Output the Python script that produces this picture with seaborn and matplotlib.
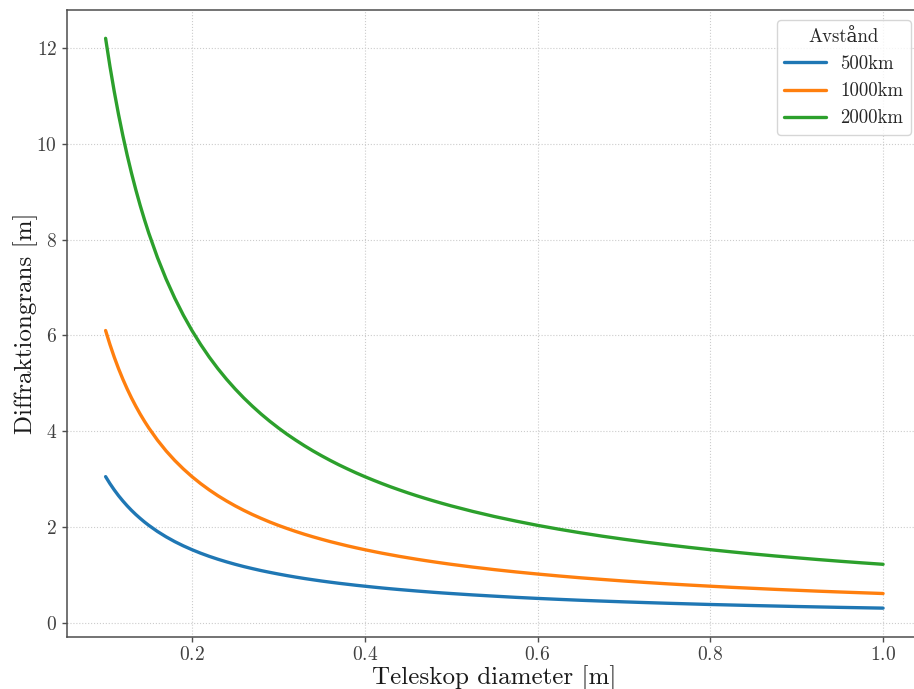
import matplotlib
matplotlib.use("Agg")
import matplotlib.pyplot as plt
import seaborn as sns
import pandas as pd

diameter = [0.10, 0.105, 0.11, 0.115, 0.12, 0.125, 0.13, 0.135, 0.14, 0.145, 0.15,
            0.16, 0.17, 0.18, 0.19, 0.20, 0.21, 0.22, 0.23, 0.24, 0.25, 0.26, 0.27,
            0.28, 0.29, 0.30, 0.31, 0.32, 0.33, 0.34, 0.35, 0.36, 0.37, 0.38, 0.39,
            0.40, 0.41, 0.42, 0.43, 0.44, 0.45, 0.46, 0.47, 0.48, 0.49, 0.50,
            0.525, 0.55, 0.575, 0.60, 0.625, 0.65, 0.675, 0.70, 0.725, 0.75, 0.775,
            0.80, 0.825, 0.85, 0.875, 0.90, 0.925, 0.95, 0.975, 1.00]
limit_500 = [3.050, 2.905, 2.773, 2.652, 2.542, 2.440, 2.346, 2.259, 2.179, 2.103, 2.033,
             1.906, 1.794, 1.694, 1.605, 1.525, 1.452, 1.386, 1.326, 1.271, 1.220, 1.173, 1.130,
             1.089, 1.052, 1.017, 0.984, 0.953, 0.924, 0.897, 0.871, 0.847, 0.824, 0.803, 0.782,
             0.763, 0.744, 0.726, 0.709, 0.693, 0.678, 0.663, 0.649, 0.635, 0.622, 0.610,
             0.581, 0.555, 0.530, 0.508, 0.488, 0.469, 0.452, 0.436, 0.421, 0.407, 0.394,
             0.381, 0.370, 0.359, 0.349, 0.339, 0.330, 0.321, 0.313, 0.305]
limit_1000 = [6.100, 5.810, 5.545, 5.304, 5.083, 4.880, 4.692, 4.519, 4.357, 4.207, 4.067,
              3.813, 3.588, 3.389, 3.211, 3.050, 2.905, 2.773, 2.652, 2.542, 2.440, 2.346, 2.259,
              2.179, 2.103, 2.033, 1.968, 1.906, 1.848, 1.794, 1.743, 1.694, 1.649, 1.605, 1.564,
              1.525, 1.488, 1.452, 1.419, 1.386, 1.356, 1.326, 1.298, 1.271, 1.245, 1.220,
              1.162, 1.109, 1.061, 1.017, 0.976, 0.938, 0.904, 0.871, 0.841, 0.813, 0.787,
              0.763, 0.739, 0.718, 0.697, 0.678, 0.659, 0.642, 0.626, 0.610]
limit_2000 = [12.200, 11.619, 11.091, 10.609, 10.167, 9.760, 9.385, 9.037, 8.714, 8.414, 8.133,
              7.625, 7.176, 6.778, 6.421, 6.100, 5.810, 5.545, 5.304, 5.083, 4.880, 4.692, 4.519,
              4.357, 4.207, 4.067, 3.935, 3.813, 3.697, 3.588, 3.486, 3.389, 3.297, 3.211, 3.128,
              3.050, 2.976, 2.905, 2.837, 2.773, 2.711, 2.652, 2.596, 2.542, 2.490, 2.440,
              2.324, 2.218, 2.122, 2.033, 1.952, 1.877, 1.807, 1.743, 1.683, 1.627, 1.574,
              1.525, 1.479, 1.435, 1.394, 1.356, 1.319, 1.284, 1.251, 1.220]
series_labels = ["500km", "1000km", "2000km"]
series_colors = ["#1f77b4", "#ff7f0e", "#2ca02c"]
x_ticks = [0.2, 0.4, 0.6, 0.8, 1.0]
y_ticks = [0, 2, 4, 6, 8, 10, 12]

rows = []
for lab, vals in zip(series_labels, [limit_500, limit_1000, limit_2000]):
    for d, v in zip(diameter, vals):
        rows.append({"Teleskop diameter [m]": d, "Diffraktiongrans [m]": v, "Avstånd": lab})
df = pd.DataFrame(rows)

sns.set_theme(style="whitegrid", rc={
    "grid.linestyle": ":",
    "grid.color": "0.8",
    "grid.linewidth": 0.8,
    "axes.edgecolor": "0.3",
    "axes.linewidth": 1.1,
    "xtick.major.size": 3.5,
    "ytick.major.size": 3.5,
    "xtick.major.width": 1.0,
    "ytick.major.width": 1.0,
    "xtick.major.pad": 3,
    "ytick.major.pad": 3.5,
    "xtick.color": "0.3",
    "ytick.color": "0.3",
    "xtick.bottom": True,
    "ytick.left": True,
})
plt.rcParams["font.family"] = ["cmr10", "DejaVu Serif"]
plt.rcParams["mathtext.fontset"] = "cm"
plt.rcParams["axes.formatter.use_mathtext"] = True

fig = plt.figure(figsize=(9.14, 6.89), dpi=100)
ax = fig.add_axes([0.073, 0.076, 0.9357, 0.9094])

sns.lineplot(data=df, x="Teleskop diameter [m]", y="Diffraktiongrans [m]",
             hue="Avstånd", palette=series_colors, linewidth=2.4, ax=ax)

ax.set_xlabel("Teleskop diameter [m]", fontsize=18, color="0.1", labelpad=1)
ax.set_ylabel("Diffraktiongrans [m]", fontsize=18, color="0.1", labelpad=-1)
ax.tick_params(labelsize=14, labelcolor="0.25")
ax.set_xticks(x_ticks)
ax.set_yticks(y_ticks)
ax.set_xlim(0.055, 1.045)
ax.set_ylim(-0.29, 12.79)

leg = ax.legend(title="Avstånd", fontsize=13.5, title_fontsize=13.5,
                loc="upper right", bbox_to_anchor=(0.9872, 0.984), borderaxespad=0,
                frameon=True, fancybox=True, handlelength=2.2)
leg.get_frame().set_edgecolor("0.8")
for t in leg.get_texts():
    t.set_color("0.15")
leg.get_title().set_color("0.15")

fig.savefig("out.png", dpi=100)
